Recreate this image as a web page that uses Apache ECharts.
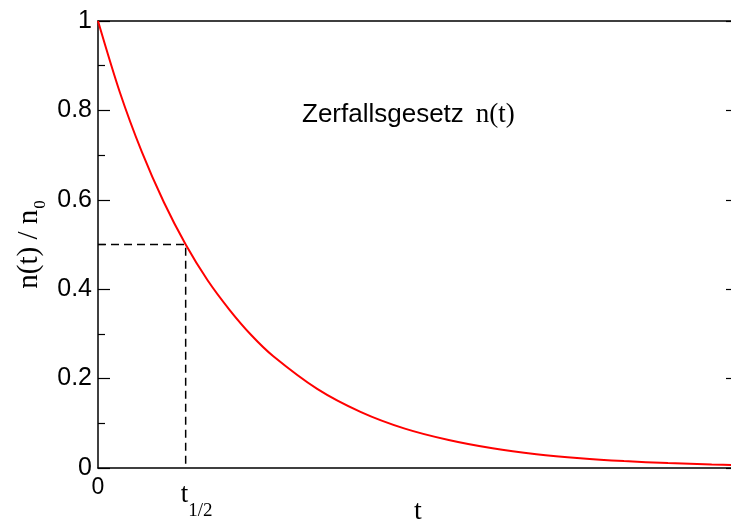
<!DOCTYPE html>
<html>
<head>
<meta charset="utf-8">
<script src="https://cdn.jsdelivr.net/npm/echarts@6/dist/echarts.min.js"></script>
<style>
  html, body { margin: 0; padding: 0; background: #fff; }
  #chart { width: 731px; height: 524px; }
</style>
</head>
<body>
<div id="chart"></div>
<script>
  // Zeit in Einheiten der Halbwertszeit
  var tValues = [0, 0.25, 0.5, 0.75, 1, 1.25, 1.5, 1.75, 2, 2.5, 3, 3.5, 4, 4.5, 5, 5.5, 6, 6.5, 7, 7.3];
  var nValues = [1, 0.84, 0.707, 0.595, 0.5, 0.42, 0.354, 0.297, 0.25, 0.177, 0.125, 0.088, 0.0625, 0.044, 0.031, 0.022, 0.0156, 0.011, 0.0078, 0.0063];
  // gestrichelte Hilfslinie bei t1/2
  var halfT = [0, 1, 1];
  var halfN = [0.5, 0.5, 0];
  var yTicks = [0, 0.2, 0.4, 0.6, 0.8, 1];

  var curve = tValues.map(function (t, i) { return [t, nValues[i]]; });
  var guide = halfT.map(function (t, i) { return [t, halfN[i]]; });

  var serif = '"Liberation Serif", "DejaVu Serif", serif';
  var sans = '"Liberation Sans", Arial, sans-serif';

  var myChart = echarts.init(document.getElementById('chart'));
  var option = {
    backgroundColor: '#fff',
    animation: false,
    title: {
      left: 297,
      top: 96,
      text: '{a|Zerfallsgesetz}{b|n(t)}',
      textStyle: {
        rich: {
          a: { fontFamily: sans, fontSize: 26, fontWeight: 'normal', color: '#000' },
          b: { fontFamily: serif, fontSize: 27, fontWeight: 'normal', color: '#000', padding: [0, 0, 0, 12] }
        }
      }
    },
    grid: { left: 98, right: -7, top: 21, bottom: 56, outerBoundsMode: 'none', containLabel: false },
    xAxis: [{
      type: 'value',
      min: 0,
      max: 7.3,
      interval: 1,
      name: 't',
      nameLocation: 'middle',
      nameGap: 30,
      nameMoveOverlap: false,
      nameTextStyle: { fontFamily: serif, fontSize: 28, color: '#000' },
      axisLine: { show: true, onZero: false, lineStyle: { color: '#000', width: 1.5 } },
      axisTick: { show: false },
      splitLine: { show: false },
      axisLabel: {
        margin: 8,
        showMaxLabel: false,
        formatter: function (v) {
          if (v === 0) return '{z|0}';
          if (v === 1) return '{t|t}{s|1/2}';
          return '';
        },
        rich: {
          z: { fontFamily: sans, fontSize: 23, color: '#000' },
          t: { fontFamily: serif, fontSize: 27, color: '#000', lineHeight: 26, padding: [12, 0, 0, 22] },
          s: { fontFamily: serif, fontSize: 19, color: '#000', lineHeight: 26, padding: [44, 0, 0, 0] }
        }
      }
    }, {
      type: 'value',
      position: 'top',
      min: 0,
      max: 7.3,
      axisLine: { show: true, onZero: false, lineStyle: { color: '#000', width: 1.5 } },
      axisTick: { show: false },
      axisLabel: { show: false },
      splitLine: { show: false }
    }],
    yAxis: [{
      type: 'value',
      min: 0,
      max: 1,
      interval: 0.2,
      name: '{n|n(t) / n}{o|0}',
      nameLocation: 'middle',
      nameGap: 54,
      nameRotate: 90,
      nameMoveOverlap: false,
      nameTextStyle: {
        rich: {
          n: { fontFamily: serif, fontSize: 29, color: '#000', lineHeight: 30 },
          o: { fontFamily: serif, fontSize: 17, color: '#000', lineHeight: 30, padding: [23, 0, 0, 1] }
        }
      },
      axisLine: { show: true, onZero: false, lineStyle: { color: '#000', width: 1.5 } },
      axisTick: { show: true, inside: true, length: 12, lineStyle: { color: '#000', width: 1.2 } },
      minorTick: { show: true, splitNumber: 2, length: 7, lineStyle: { color: '#000', width: 1.2 } },
      splitLine: { show: false },
      axisLabel: {
        margin: 6,
        fontFamily: sans,
        fontSize: 25,
        color: '#000',
        formatter: function (v) {
          var i = yTicks.indexOf(Math.round(v * 10) / 10);
          return i >= 0 ? String(yTicks[i]) : '';
        }
      }
    }, {
      type: 'value',
      position: 'right',
      min: 0,
      max: 1,
      interval: 0.2,
      axisLine: { show: false, onZero: false },
      axisTick: { show: true, inside: true, length: 12, lineStyle: { color: '#000', width: 1.2 } },
      axisLabel: { show: false },
      splitLine: { show: false }
    }],
    series: [{
      name: 'guide',
      type: 'line',
      data: guide,
      symbol: 'none',
      lineStyle: { color: '#000', width: 1.5, type: [8, 5] },
      z: 3
    }, {
      name: 'n(t)',
      type: 'line',
      data: curve,
      symbol: 'none',
      smooth: 0.3,
      lineStyle: { color: '#ff0000', width: 2 },
      z: 4
    }]
  };
  myChart.setOption(option, true);
</script>
</body>
</html>
